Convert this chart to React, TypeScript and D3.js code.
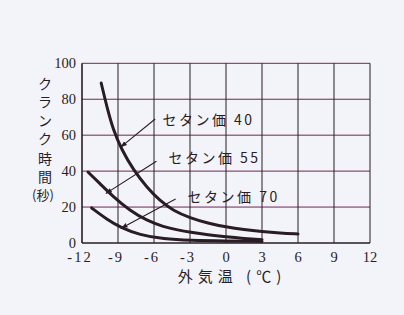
import React from "react";
import * as d3 from "d3";

// Outside air temperature (°C) on the x axis, cranking time (s) on the y axis
const xTicks = [-12, -9, -6, -3, 0, 3, 6, 9, 12];
const yTicks = [0, 20, 40, 60, 80, 100];

const cetane40 = [
  [-10.4, 89], [-9.9, 75], [-9.4, 63], [-8.7, 52], [-7.7, 40.5], [-6.6, 31],
  [-5.5, 23.5], [-4.4, 18], [-3, 14], [-1.5, 11], [0, 8.9], [1.5, 7.4],
  [3, 6.3], [4.5, 5.5], [6, 5],
];
const cetane55 = [
  [-11.5, 39.5], [-10.5, 33], [-9.4, 25.8], [-8, 18], [-6.6, 12.5], [-5.2, 9],
  [-4, 7.2], [-3, 6], [-1.5, 4.5], [0, 3.4], [1.5, 2.5], [3, 1.8],
];
const cetane70 = [
  [-11.2, 19.5], [-9.9, 13], [-8.8, 8.7], [-7.2, 4.5], [-5.2, 2.2], [-3, 1.4],
  [0, 1.1], [3, 0.9],
];

const seriesLabels = ["セタン価 40", "セタン価 55", "セタン価 70"];

const W = 404;
const H = 315;
const ink = "#2a1c24";
const gridPink = "#6e2654";
const bg = "#f3f4fa";

export default function App() {
  const x = d3.scaleLinear().domain([-12, 12]).range([82, 370]);
  const y = d3.scaleLinear().domain([0, 100]).range([243, 63.3]);
  const line = d3
    .line<number[]>()
    .x((d) => x(d[0]))
    .y((d) => y(d[1]))
    .curve(d3.curveBasis);

  const series = [cetane40, cetane55, cetane70];

  // label anchor (data units) and leader line from label to the curve
  const labelPos = [
    { tx: -5.3, ty: 68.5, from: [-5.9, 69], to: [-8.75, 53.5] },
    { tx: -4.8, ty: 47, from: [-5.8, 45.5], to: [-10.0, 27.6] },
    { tx: -3.2, ty: 25.5, from: [-4.2, 24.5], to: [-8.7, 8.4] },
  ];

  const yLabelChars = [
    { c: "ク", y: 84 },
    { c: "ラ", y: 102 },
    { c: "ン", y: 121 },
    { c: "ク", y: 139 },
    { c: "時", y: 159 },
    { c: "間", y: 177 },
  ];

  return (
    <svg
      width={W}
      height={H}
      style={{ position: "absolute", left: 0, top: 0, background: bg }}
    >
      <defs>
        <marker
          id="arrow"
          viewBox="0 0 10 10"
          refX="9"
          refY="5"
          markerWidth="6"
          markerHeight="6"
          orient="auto"
        >
          <path d="M0,1.5 L10,5 L0,8.5 Z" fill={ink} />
        </marker>
      </defs>
      <rect width={W} height={H} fill={bg} />

      {/* horizontal grid */}
      {yTicks.map((t) => (
        <line
          key={"h" + t}
          x1={x(-12)}
          x2={x(12)}
          y1={y(t)}
          y2={y(t)}
          stroke={t === 0 ? ink : gridPink}
          strokeWidth={t === 0 ? 1.6 : 1}
        />
      ))}
      {/* vertical grid */}
      {xTicks.map((t) => (
        <line
          key={"v" + t}
          x1={x(t)}
          x2={x(t)}
          y1={y(100)}
          y2={y(0)}
          stroke={ink}
          strokeWidth={t === -12 ? 1.6 : 1}
        />
      ))}

      {/* curves */}
      {series.map((s, i) => (
        <path
          key={"s" + i}
          d={line(s) || ""}
          fill="none"
          stroke={ink}
          strokeWidth={3}
          strokeLinecap="round"
        />
      ))}

      {/* labels with leader arrows */}
      {labelPos.map((p, i) => (
        <g key={"l" + i}>
          <line
            x1={x(p.from[0])}
            y1={y(p.from[1])}
            x2={x(p.to[0])}
            y2={y(p.to[1])}
            stroke={ink}
            strokeWidth={1.1}
            markerEnd="url(#arrow)"
          />
          <text
            x={x(p.tx)}
            y={y(p.ty)}
            dy="0.35em"
            fontFamily="'Noto Sans CJK JP', sans-serif"
            fontSize={14}
            letterSpacing={2.5}
            fill={ink}
          >
            {seriesLabels[i]}
          </text>
        </g>
      ))}

      {/* y tick labels */}
      {yTicks.map((t) => (
        <text
          key={"yt" + t}
          x={76}
          y={y(t)}
          dy="0.33em"
          textAnchor="end"
          fontFamily="'Liberation Serif', serif"
          fontSize={14.5}
          fill={ink}
        >
          {t}
        </text>
      ))}

      {/* x tick labels */}
      {xTicks.map((t) => (
        <text
          key={"xt" + t}
          x={x(t) + (t < 0 ? -2 : 0)}
          y={257}
          dy="0.33em"
          textAnchor="middle"
          fontFamily="'Liberation Serif', serif"
          fontSize={14.5}
          letterSpacing={t < 0 ? 2 : 0}
          fill={ink}
        >
          {t < 0 ? "-" + Math.abs(t) : String(t)}
        </text>
      ))}

      {/* y axis title, written vertically */}
      {yLabelChars.map((c, i) => (
        <text
          key={"yc" + i}
          x={45}
          y={c.y}
          dy="0.35em"
          textAnchor="middle"
          fontFamily="'Noto Sans CJK JP', sans-serif"
          fontSize={14}
          fill={ink}
        >
          {c.c}
        </text>
      ))}
      <text
        x={43}
        y={195}
        dy="0.35em"
        textAnchor="middle"
        fontFamily="'Noto Sans CJK JP', sans-serif"
        fontSize={13}
        fill={ink}
      >
        (秒)
      </text>

      {/* x axis title */}
      <text
        x={232}
        y={277}
        dy="0.35em"
        textAnchor="middle"
        fontFamily="'Noto Sans CJK JP', sans-serif"
        fontSize={15}
        letterSpacing={5}
        fill={ink}
      >
        外気温 (℃)
      </text>
    </svg>
  );
}
